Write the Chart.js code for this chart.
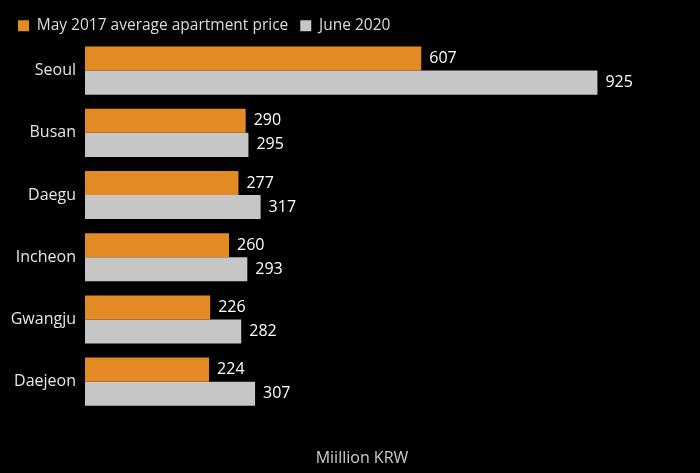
<!DOCTYPE html>
<html>
<head>
<meta charset="utf-8">
<script src="https://cdn.jsdelivr.net/npm/chart.js@4.4.0/dist/chart.umd.min.js"></script>
<style>
  html, body { margin: 0; padding: 0; background: #000; }
  #wrap { width: 700px; height: 473px; }
</style>
</head>
<body>
<div id="wrap"><canvas id="myChart"></canvas></div>
<script>
// data
const cities = ['Seoul', 'Busan', 'Daegu', 'Incheon', 'Gwangju', 'Daejeon'];
const may2017 = [607, 290, 277, 260, 226, 224];
const june2020 = [925, 295, 317, 293, 282, 307];
const seriesNames = ['May 2017 average apartment price', 'June 2020'];
const axisTitle = 'Miillion KRW';

// values written just past the end of each bar
const barValues = {
    id: 'barValues',
    afterDatasetsDraw(chart) {
        const ctx = chart.ctx;
        ctx.save();
        ctx.fillStyle = '#ffffff';
        ctx.font = '16px "Open Sans", sans-serif';
        ctx.textBaseline = 'middle';
        ctx.textAlign = 'left';
        chart.data.datasets.forEach(function(ds, i) {
            chart.getDatasetMeta(i).data.forEach(function(bar, j) {
                ctx.fillText(ds.data[j], bar.x + 8, bar.y);
            });
        });
        ctx.restore();
    }
};

// nudge the legend a bit down and left without moving the plot
const legendNudge = {
    id: 'legendNudge',
    afterLayout(chart) {
        const lg = chart.legend;
        lg.top += 4; lg.bottom += 4;
        lg.left -= 2; lg.right -= 2;
    }
};

const ctx = document.getElementById('myChart').getContext('2d');
const chart = new Chart(ctx, {
    type: 'bar',
    data: {
        labels: cities,
        datasets: [
            {
                label: seriesNames[0],
                data: may2017,
                backgroundColor: '#e38a24'
            },
            {
                label: seriesNames[1],
                data: june2020,
                backgroundColor: '#c6c6c6'
            }
        ]
    },
    options: {
        indexAxis: 'y',
        responsive: true,
        maintainAspectRatio: false,
        animation: false,
        categoryPercentage: 0.774,
        barPercentage: 1,
        layout: {
            padding: { left: 8, right: 61, top: 2, bottom: 5 }
        },
        plugins: {
            legend: {
                position: 'top',
                align: 'start',
                labels: {
                    boxWidth: 11,
                    boxHeight: 11,
                    color: '#dddddd',
                    font: { size: 15.5, family: '"Open Sans", sans-serif' },
                    padding: 12
                }
            },
            tooltip: { enabled: false }
        },
        scales: {
            x: {
                min: 0,
                max: 1000,
                grid: { display: false, drawTicks: false },
                border: { display: false },
                ticks: { display: false },
                title: {
                    display: true,
                    text: axisTitle,
                    color: '#cccccc',
                    font: { size: 16, family: '"Open Sans", sans-serif' },
                    padding: { top: 36, bottom: 0 }
                }
            },
            y: {
                grid: { display: false, drawTicks: false },
                border: { display: false },
                ticks: {
                    color: '#e6e6e6',
                    font: { size: 16, family: '"Open Sans", sans-serif' },
                    padding: 9
                },
                afterFit: function(scale) { scale.width = 77; }
            }
        }
    },
    plugins: [barValues, legendNudge]
});
</script>
</body>
</html>
